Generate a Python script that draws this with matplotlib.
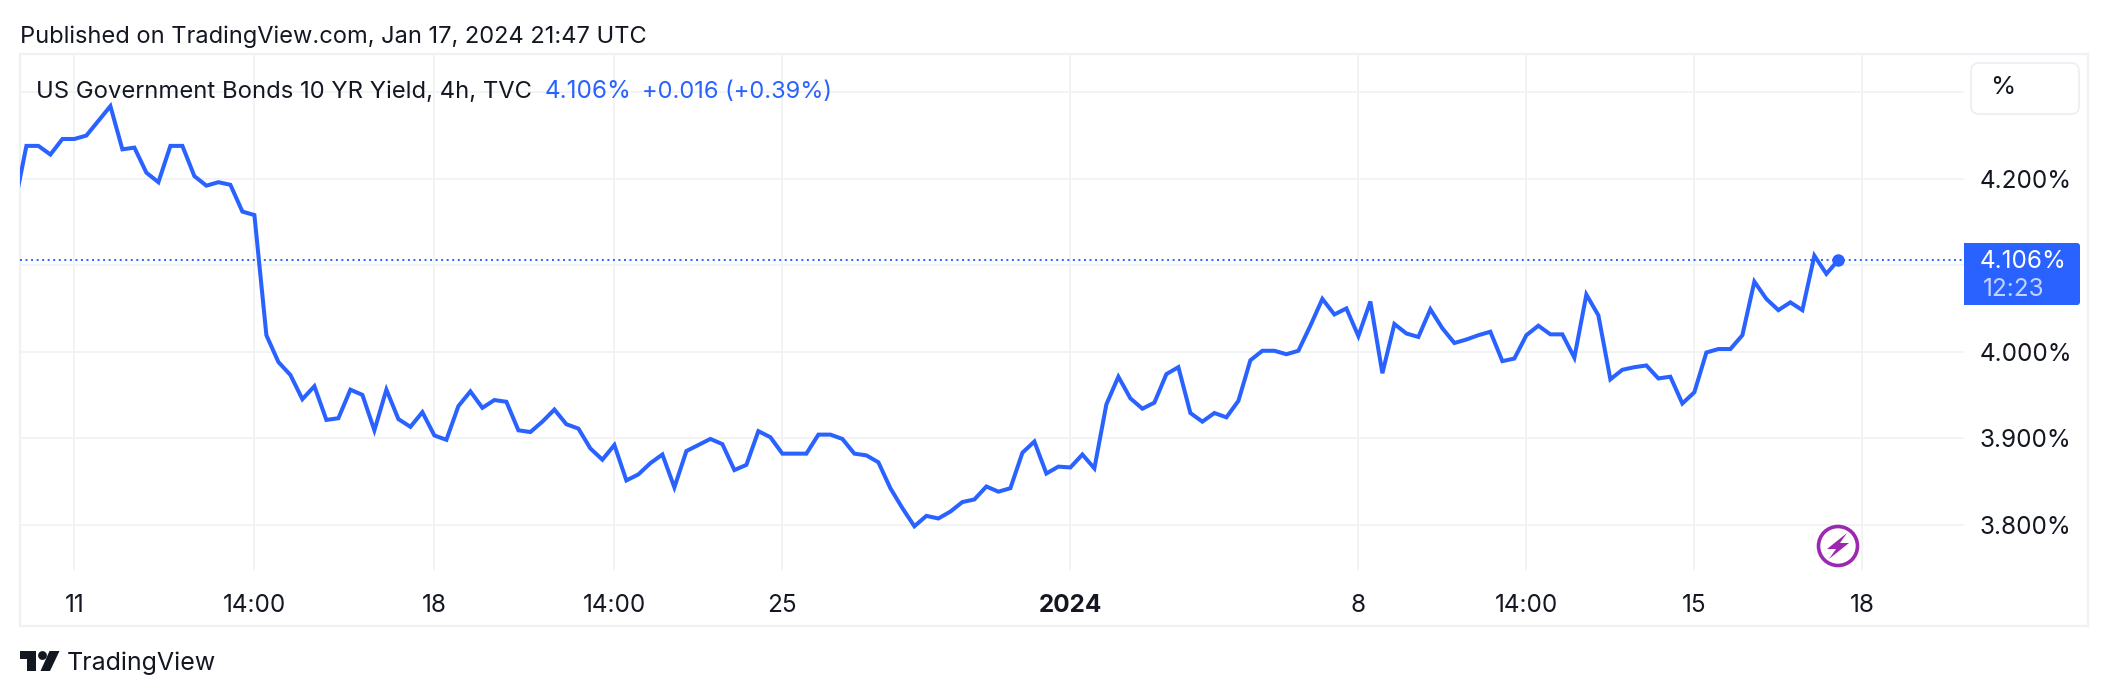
import matplotlib
matplotlib.use("Agg")
import matplotlib.pyplot as plt
from matplotlib.patches import Rectangle, FancyBboxPatch, Circle, Polygon

plt.rcParams["font.family"] = ["Inter", "DejaVu Sans"]

# 4h closes, one value per bar, first one runs off the left edge of the pane
yields = [
    4.168, 4.238, 4.238, 4.228, 4.246, 4.246, 4.250, 4.267, 4.284, 4.234,
    4.236, 4.207, 4.196, 4.238, 4.238, 4.203, 4.192, 4.196, 4.193, 4.162,
    4.158, 4.019, 3.988, 3.973, 3.945, 3.960, 3.921, 3.923, 3.956, 3.950,
    3.909, 3.956, 3.922, 3.913, 3.930, 3.903, 3.898, 3.937, 3.954, 3.935,
    3.944, 3.942, 3.909, 3.907, 3.919, 3.933, 3.916, 3.911, 3.888, 3.875,
    3.892, 3.851, 3.858, 3.871, 3.881, 3.843, 3.885, 3.892, 3.899, 3.893,
    3.863, 3.869, 3.908, 3.901, 3.882, 3.882, 3.882, 3.904, 3.904, 3.899,
    3.882, 3.880, 3.872, 3.842, 3.819, 3.798, 3.810, 3.807, 3.815, 3.826,
    3.829, 3.844, 3.838, 3.842, 3.883, 3.896, 3.859, 3.867, 3.866, 3.881,
    3.865, 3.939, 3.971, 3.946, 3.934, 3.941, 3.974, 3.982, 3.929, 3.919,
    3.929, 3.924, 3.943, 3.990, 4.001, 4.001, 3.997, 4.001, 4.030, 4.061,
    4.043, 4.050, 4.018, 4.058, 3.975, 4.032, 4.021, 4.017, 4.049, 4.027,
    4.010, 4.014, 4.019, 4.023, 3.989, 3.992, 4.019, 4.030, 4.020, 4.020,
    3.993, 4.066, 4.042, 3.968, 3.979, 3.982, 3.984, 3.969, 3.971, 3.940,
    3.953, 3.999, 4.003, 4.003, 4.019, 4.081, 4.061, 4.048, 4.057, 4.048,
    4.111, 4.090, 4.106,
]
last_price = 4.106

time_ticks = [5, 20, 35, 50, 64, 88, 112, 126, 140, 154]
time_labels = ["11", "14:00", "18", "14:00", "25", "2024", "8", "14:00", "15", "18"]
price_ticks = [3.8, 3.9, 4.0, 4.1, 4.2, 4.3]
price_labels = ["3.800%", "3.900%", "4.000%", "", "4.200%", ""]

BLUE = "#2962ff"
INK = "#131722"
GRID = "#f2f3f4"
W, H = 2108, 696

fig = plt.figure(figsize=(W / 100, H / 100), dpi=100)

# background layer in pixel coordinates, for the frame
back = fig.add_axes([0, 0, 1, 1], zorder=0)
back.set_xlim(0, W)
back.set_ylim(H, 0)
back.axis("off")
back.add_patch(Rectangle((20, 54), 2068, 572, fc="white", ec="#f0f1f6", lw=1.6))

# --- main pane, bar index on x ---
ax = fig.add_axes([20 / W, 1 - 570 / H, 1944 / W, 516 / H], zorder=1)
ax.patch.set_alpha(0)
for s in ax.spines.values():
    s.set_visible(False)
ax.set_xlim(0.467, 162.47)
ax.set_ylim(3.7474, 4.3443)

ax.plot(range(len(yields)), yields, color=BLUE, lw=2.9, solid_joinstyle="miter", zorder=3)
ax.axhline(last_price, color=BLUE, lw=1.4, ls=(0, (1.0, 1.85)), zorder=2)
ax.plot(len(yields) - 1, last_price, "o", color=BLUE, ms=9, mew=0, zorder=4)

ax.set_xticks(time_ticks, time_labels)
ax.yaxis.tick_right()
ax.set_yticks(price_ticks, price_labels)
ax.grid(True, color=GRID, lw=1.4)
ax.set_axisbelow(True)
ax.tick_params(axis="x", length=0, pad=17.5, labelsize=17.5, labelcolor=INK)
ax.tick_params(axis="y", length=0, pad=11.5, labelsize=17.5, labelcolor=INK)
ax.get_xticklabels()[5].set_fontweight("bold")

# top layer for text and widgets, the grid has to stay under these
page = fig.add_axes([0, 0, 1, 1], zorder=2)
page.set_xlim(0, W)
page.set_ylim(H, 0)
page.axis("off")

# --- header text ---
page.text(20, 37, "Published on TradingView.com, Jan 17, 2024 21:47 UTC", fontsize=17,
          color=INK, va="center")
page.text(36, 92, "US Government Bonds 10 YR Yield, 4h, TVC", fontsize=17.15, color=INK, va="center")
page.text(545, 92, "4.106%", fontsize=17.5, color=BLUE, va="center")
page.text(642, 92, "+0.016 (+0.39%)", fontsize=17, color=BLUE, va="center")

# --- price scale widgets ---
page.add_patch(FancyBboxPatch((1971, 63), 108, 51, boxstyle="round,pad=0,rounding_size=8",
                              fc="white", ec="#eceef3", lw=1.2))
page.text(1990, 88, "%", fontsize=18.5, color=INK, va="center")

page.add_patch(FancyBboxPatch((1964, 243), 116, 62, boxstyle="round,pad=0,rounding_size=3",
                              fc=BLUE, ec="none"))
page.add_patch(Rectangle((1964, 243), 8, 62, fc=BLUE, ec="none"))
page.text(1980, 262, "4.106%", fontsize=17.5, color="white", va="center")
page.text(1983, 290, "12:23", fontsize=17.5, color="#c3d2ff", va="center")

# lightning badge
page.add_patch(Circle((1838, 546), 19.5, fc="white", ec="#9c27b0", lw=2.6))
page.add_patch(Polygon([(1847, 533), (1827, 549), (1836, 549), (1829, 559), (1849, 543),
                        (1840, 543)], fc="#9c27b0", ec="none"))

# TradingView logo
page.add_patch(Polygon([(20, 651), (36, 651), (36, 671), (27, 671), (27, 659), (20, 659)],
                       fc=INK, ec="none"))
page.add_patch(Circle((42.5, 655.5), 4.4, fc=INK, ec="none"))
page.add_patch(Polygon([(49.5, 651), (59.5, 651), (50, 671), (40.5, 671)], fc=INK, ec="none"))
page.text(67, 663, "TradingView", fontsize=18, color=INK, va="center")

fig.savefig("out.png", dpi=100)
